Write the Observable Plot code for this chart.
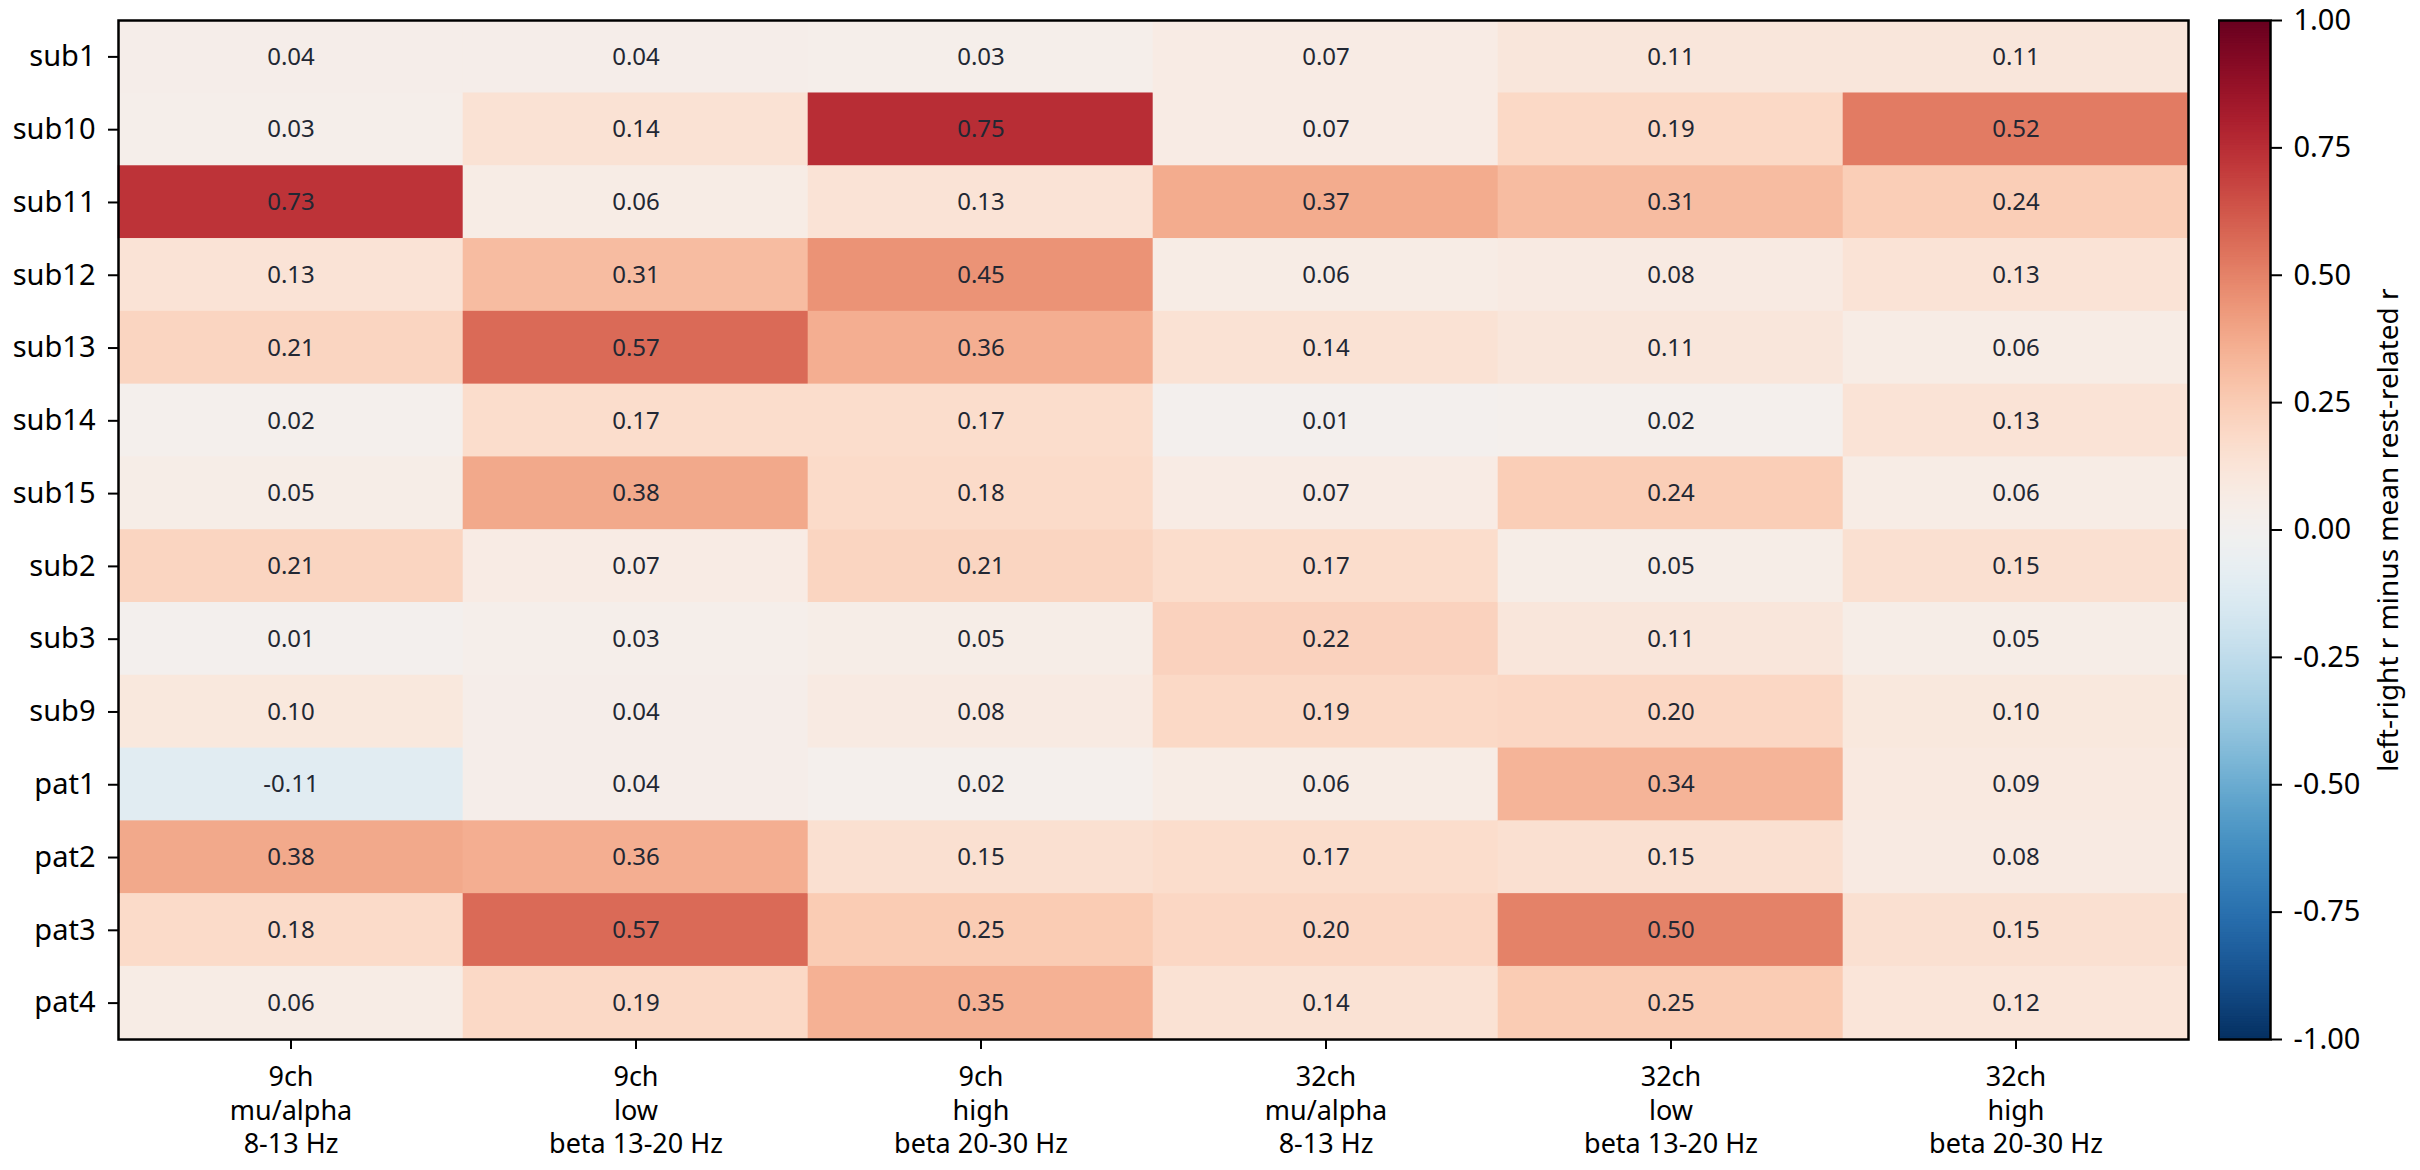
<!DOCTYPE html>
<html>
<head>
<meta charset="utf-8">
<script src="https://cdn.jsdelivr.net/npm/d3@7"></script>
<script src="https://cdn.jsdelivr.net/npm/@observablehq/plot@0.6"></script>
<style>
  body { margin: 0; background: #ffffff; }
  #wrap { position: relative; width: 2420px; height: 1170px; background: #ffffff; }
  #wrap svg { position: absolute; top: 0; }
</style>
</head>
<body>
<div id="wrap"></div>
<script>
// ---- data ----
const subjects = ["sub1", "sub10", "sub11", "sub12", "sub13", "sub14", "sub15", "sub2", "sub3", "sub9", "pat1", "pat2", "pat3", "pat4"];
const bands = [
  "9ch\nmu/alpha\n8-13 Hz",
  "9ch\nlow\nbeta 13-20 Hz",
  "9ch\nhigh\nbeta 20-30 Hz",
  "32ch\nmu/alpha\n8-13 Hz",
  "32ch\nlow\nbeta 13-20 Hz",
  "32ch\nhigh\nbeta 20-30 Hz"
];
const ch9MuAlpha   = [0.04, 0.03, 0.73, 0.13, 0.21, 0.02, 0.05, 0.21, 0.01, 0.10, -0.11, 0.38, 0.18, 0.06];
const ch9LowBeta   = [0.04, 0.14, 0.06, 0.31, 0.57, 0.17, 0.38, 0.07, 0.03, 0.04, 0.04, 0.36, 0.57, 0.19];
const ch9HighBeta  = [0.03, 0.75, 0.13, 0.45, 0.36, 0.17, 0.18, 0.21, 0.05, 0.08, 0.02, 0.15, 0.25, 0.35];
const ch32MuAlpha  = [0.07, 0.07, 0.37, 0.06, 0.14, 0.01, 0.07, 0.17, 0.22, 0.19, 0.06, 0.17, 0.20, 0.14];
const ch32LowBeta  = [0.11, 0.19, 0.31, 0.08, 0.11, 0.02, 0.24, 0.05, 0.11, 0.20, 0.34, 0.15, 0.50, 0.25];
const ch32HighBeta = [0.11, 0.52, 0.24, 0.13, 0.06, 0.13, 0.06, 0.15, 0.05, 0.10, 0.09, 0.08, 0.15, 0.12];
const colorTicks = [-1.0, -0.75, -0.5, -0.25, 0.0, 0.25, 0.5, 0.75, 1.0];
const colorLabel = "left-right r minus mean rest-related r";

const columns = [ch9MuAlpha, ch9LowBeta, ch9HighBeta, ch32MuAlpha, ch32LowBeta, ch32HighBeta];
const table = [];
columns.forEach((col, j) => col.forEach((v, i) => table.push({band: bands[j], subject: subjects[i], value: v})));

const FONT = "'Noto Sans', 'Open Sans', sans-serif";
const colorOpts = {type: "linear", scheme: "RdBu", reverse: true, domain: [-1, 1]};

const main = Plot.plot({
  width: 2420,
  height: 1170,
  marginLeft: 118,
  marginRight: 232,
  marginTop: 20,
  marginBottom: 131,
  style: {fontFamily: FONT, background: "transparent", color: "#000"},
  x: {domain: bands, padding: 0, round: false},
  y: {domain: subjects, padding: 0, round: false},
  color: colorOpts,
  marks: [
    Plot.cell(table, {x: "band", y: "subject", fill: "value", inset: -0.3}),
    Plot.text(table, {x: "band", y: "subject", text: d => d.value.toFixed(2), fontSize: 24, fill: "#222733"}),
    Plot.frame({stroke: "#000", strokeWidth: 2.5}),
    Plot.axisX({tickSize: 10, tickPadding: 13, fontSize: 27, lineHeight: 1.24, label: null, strokeWidth: 2}),
    Plot.axisY({tickSize: 10, tickPadding: 13, fontSize: 29, label: null, strokeWidth: 2})
  ]
});
main.style.left = "0px";
document.getElementById("wrap").appendChild(main);

const step = 0.005;
const ramp = d3.range(-1, 1, step);
const cb = Plot.plot({
  width: 202,
  height: 1170,
  marginLeft: 0,
  marginRight: 150,
  marginTop: 20,
  marginBottom: 131,
  style: {fontFamily: FONT, background: "transparent", color: "#000"},
  x: {axis: null, domain: [0, 1]},
  y: {domain: [-1, 1]},
  color: colorOpts,
  marks: [
    Plot.rect(ramp, {x1: 0, x2: 1, y1: d => d, y2: d => Math.min(1, d + step * 1.5), fill: d => d + step / 2}),
    Plot.frame({stroke: "#000", strokeWidth: 2.5}),
    Plot.axisY({anchor: "right", ticks: colorTicks, tickFormat: d => d.toFixed(2), tickSize: 11, tickPadding: 12, fontSize: 29, label: null, strokeWidth: 2}),
    Plot.text([colorLabel], {frameAnchor: "left", dx: 171, rotate: -90, fontSize: 28, textAnchor: "middle", lineAnchor: "middle", fill: "#000"})
  ]
});
cb.style.left = "2218px";
document.getElementById("wrap").appendChild(cb);
</script>
</body>
</html>
